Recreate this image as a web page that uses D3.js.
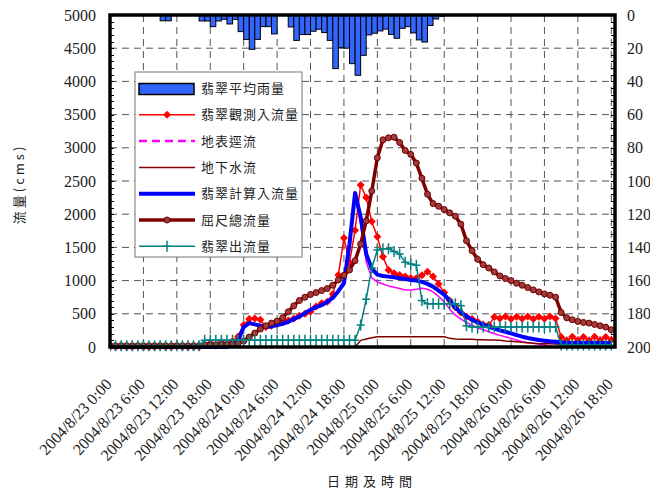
<!DOCTYPE html>
<html>
<head>
<meta charset="utf-8">
<script src="https://cdn.jsdelivr.net/npm/d3@7/dist/d3.min.js"></script>
<style>
    body { margin: 0; background: #fff; }
    svg text { font-family: "Liberation Serif", "DejaVu Serif", serif; fill: #222; }
    svg text.cjk { font-family: "Noto Sans CJK TC", "Noto Sans", sans-serif; }
</style>
</head>
<body>
<svg id="chart" width="650" height="493"></svg>
<script>
// first hour of every hourly series, and the right end of the time axis
const startTime = "2004/8/23 0:00";
const endTime = "2004/8/26 18:40";

const xTickLabels = [
    "2004/8/23 0:00", "2004/8/23 6:00", "2004/8/23 12:00", "2004/8/23 18:00",
    "2004/8/24 0:00", "2004/8/24 6:00", "2004/8/24 12:00", "2004/8/24 18:00",
    "2004/8/25 0:00", "2004/8/25 6:00", "2004/8/25 12:00", "2004/8/25 18:00",
    "2004/8/26 0:00", "2004/8/26 6:00", "2004/8/26 12:00", "2004/8/26 18:00"
];
const flowTicks = [0, 500, 1000, 1500, 2000, 2500, 3000, 3500, 4000, 4500, 5000];
const rainTicks = [0, 20, 40, 60, 80, 100, 120, 140, 160, 180, 200];

const seriesNames = ["翡翠平均雨量", "翡翠觀測入流量", "地表逕流", "地下水流", "翡翠計算入流量", "屈尺總流量", "翡翠出流量"];

// hourly rainfall (mm), hour 0 = 8/23 0:00
const rainfall = [
    0, 0, 0, 0, 0, 0, 0, 0, 0, 3.5, 3.5, 0, 0, 0, 0, 0,
    3.6, 3.6, 7, 3.6, 2.6, 5.4, 2.6, 10, 14.7, 20.7, 14.7, 7, 7, 11.4, 0, 0,
    7.2, 15.3, 11.8, 11.8, 9.8, 8.6, 10.6, 15.3, 32.3, 19.7, 20, 29.3, 36.3, 24.3, 12, 11,
    9.6, 8.5, 11.7, 14, 8, 7, 10.8, 15, 16.3, 6.3, 2.4, 0.8, 0
];

// hourly flows (cms), hour 0 .. 90
const observedInflow = [
    0, 0, 10, 0, 0, 10, 0, 0, 0, 10, 0, 0, 10, 0, 0, 0, 0,
    30, 60, 20, 70, 30, 90, 160, 330, 420, 430, 410, 300, 320, 350, 390, 400,
    430, 470, 500, 530, 610, 660, 680, 800, 1085, 1640, 1270, 1760, 2440, 2250, 1890, 1660,
    1360, 1160, 1110, 1085, 1060, 1040, 1035, 1080, 1135, 1060, 950, 820, 700, 600, 520, 460,
    420, 380, 340, 330, 450, 430, 460, 420, 455, 425, 460, 420, 455, 425, 460, 430,
    150, 100, 155, 105, 150, 100, 155, 105, 150, 110
];
const surfaceFlow = [
    0, 0, 0, 0, 0, 0, 0, 0, 0, 0, 0, 0, 0, 0, 0, 0, 0,
    0, 0, 0, 0, 0, 0, 90, 290, 350, 330, 310, 290, 300, 320, 340, 370,
    410, 450, 500, 550, 590, 620, 670, 730, 830, 950, 1530, 2250, 1850, 1280, 1040, 980,
    950, 920, 900, 880, 860, 860, 870, 885, 870, 830, 760, 680, 570, 480, 420, 370,
    330, 290, 260, 230, 200, 175, 155, 130, 105, 80, 65, 55, 45, 30, 15, 5,
    0, 0, 0, 0, 0, 0, 0, 0, 0, 0
];
const groundFlow = [
    0, 0, 0, 0, 0, 0, 0, 0, 0, 0, 0, 0, 0, 0, 0, 0, 0,
    0, 0, 0, 0, 0, 0, 0, 0, 0, 0, 0, 0, 0, 0, 0, 0,
    0, 0, 0, 0, 0, 0, 0, 0, 0, 0, 0, 0, 100, 120, 140, 155,
    155, 155, 155, 155, 155, 155, 155, 155, 155, 155, 155, 155, 130, 120, 115, 115,
    115, 110, 110, 105, 105, 100, 90, 85, 80, 70, 65, 55, 50, 50, 50, 45,
    30, 30, 30, 30, 30, 30, 30, 30, 30, 30
];
const computedInflow = [
    0, 0, 0, 0, 0, 0, 0, 0, 0, 0, 0, 0, 0, 0, 0, 0, 0,
    0, 0, 0, 0, 0, 20, 100, 300, 360, 340, 320, 300, 310, 330, 350, 380,
    420, 460, 510, 560, 600, 630, 680, 740, 840, 960, 1550, 2320, 1960, 1400, 1180, 1090,
    1070, 1060, 1050, 1035, 1025, 1010, 1000, 980, 950, 910, 850, 790, 700, 590, 520, 460,
    410, 370, 335, 305, 280, 250, 230, 205, 180, 155, 135, 120, 105, 95, 85, 80,
    70, 60, 60, 60, 60, 60, 60, 60, 60, 60
];
const totalFlow = [
    20, 20, 20, 20, 20, 20, 20, 20, 20, 20, 20, 20, 20, 20, 20, 20, 20,
    30, 30, 35, 40, 40, 45, 55, 90, 150, 210, 270, 320, 360, 390, 440, 530,
    620, 700, 750, 790, 820, 850, 880, 930, 1010, 1080, 1160, 1300, 1550, 1900, 2350, 2850,
    3120, 3150, 3160, 3080, 2960, 2900, 2770, 2540, 2300, 2160, 2120, 2070, 2020, 1970, 1850, 1600,
    1450, 1320, 1240, 1190, 1130, 1070, 1030, 1000, 960, 930, 895, 860, 830, 800, 780, 750,
    520, 440, 410, 385, 370, 360, 340, 320, 300, 260
];
const outflow = [
    20, 20, 20, 20, 20, 20, 20, 20, 20, 20, 20, 20, 20, 20, 20, 20, 20,
    100, 100, 100, 100, 100, 100, 100, 100, 100, 100, 100, 100, 100, 100, 100, 100,
    100, 100, 100, 100, 100, 100, 100, 100, 100, 100, 100, 100, 330, 720, 1190, 1460,
    1480, 1480, 1440, 1400, 1275, 1250, 1230, 700, 650, 650, 650, 650, 650, 650, 620, 320,
    300, 300, 300, 300, 300, 300, 300, 300, 300, 300, 300, 300, 300, 300, 300, 300,
    30, 30, 30, 30, 30, 30, 30, 30, 30, 30
];

const parseTime = d3.timeParse("%Y/%m/%d %H:%M");
const t0 = parseTime(startTime);
const hourAt = i => d3.timeHour.offset(t0, i);

const margin = {left: 110, right: 35, top: 15, bottom: 146};
const width = 650, height = 493;
const plotW = width - margin.left - margin.right;
const plotH = height - margin.top - margin.bottom;

const svg = d3.select("#chart");

const x = d3.scaleTime()
    .domain([t0, parseTime(endTime)])
    .range([margin.left, margin.left + plotW]);
const yFlow = d3.scaleLinear()
    .domain([0, 5000])
    .range([margin.top + plotH, margin.top]);
const yRain = d3.scaleLinear()
    .domain([0, 200])
    .range([margin.top, margin.top + plotH]);

const tickDates = xTickLabels.map(parseTime);

// grid
const grid = svg.append("g")
    .attr("stroke", "#555")
    .attr("stroke-width", 1)
    .attr("stroke-dasharray", "7,5");
grid.selectAll("line.h")
    .data(flowTicks.slice(1, -1))
    .join("line")
    .attr("class", "h")
    .attr("x1", margin.left).attr("x2", margin.left + plotW)
    .attr("y1", d => yFlow(d)).attr("y2", d => yFlow(d));
grid.selectAll("line.v")
    .data(tickDates.slice(1))
    .join("line")
    .attr("class", "v")
    .attr("x1", d => x(d)).attr("x2", d => x(d))
    .attr("y1", margin.top).attr("y2", margin.top + plotH);

// minor ticks on both vertical axes
const minor = svg.append("g").attr("stroke", "#000").attr("stroke-width", 1);
minor.selectAll("line.l")
    .data(d3.range(0, 5001, 100))
    .join("line")
    .attr("class", "l")
    .attr("x1", margin.left).attr("x2", margin.left + 4)
    .attr("y1", d => Math.round(yFlow(d)) + 0.5).attr("y2", d => Math.round(yFlow(d)) + 0.5);
minor.selectAll("line.r")
    .data(d3.range(0, 201, 4))
    .join("line")
    .attr("class", "r")
    .attr("x1", margin.left + plotW - 4).attr("x2", margin.left + plotW)
    .attr("y1", d => Math.round(yRain(d)) + 0.5).attr("y2", d => Math.round(yRain(d)) + 0.5);

// rainfall bars hanging from the top
svg.append("g")
    .selectAll("rect")
    .data(rainfall.map((v, i) => ({i, v})).filter(d => d.v > 0))
    .join("rect")
    .attr("x", d => x(hourAt(d.i)))
    .attr("width", d => x(hourAt(d.i + 1)) - x(hourAt(d.i)))
    .attr("y", yRain(0))
    .attr("height", d => yRain(d.v) - yRain(0))
    .attr("fill", "#3366ff")
    .attr("stroke", "#000")
    .attr("stroke-width", 1);

svg.append("clipPath").attr("id", "plot-clip")
    .append("rect")
    .attr("x", margin.left).attr("y", margin.top - 6)
    .attr("width", plotW).attr("height", plotH + 12);

const plot = svg.append("g").attr("clip-path", "url(#plot-clip)");
const line = d3.line()
    .x((d, i) => x(hourAt(i)))
    .y(d => yFlow(d));

const diamond = "M0,-4L4,0L0,4L-4,0Z";
const plus = "M-4,0H4M0,-5.5V5.5";

const series = [
    {values: observedInflow, color: "#ff0000", width: 1.5, marker: "diamond"},
    {values: surfaceFlow, color: "#ff00ff", width: 1.5},
    {values: groundFlow, color: "#800000", width: 1.5},
    {values: computedInflow, color: "#0000ff", width: 4},
    {values: totalFlow, color: "#800000", width: 3.5, marker: "circle"},
    {values: outflow, color: "#008080", width: 1.5, marker: "plus"}
];

series.forEach(s => {
    plot.append("path")
        .datum(s.values)
        .attr("fill", "none")
        .attr("stroke", s.color)
        .attr("stroke-width", s.width)
        .attr("stroke-linejoin", "round")
        .attr("d", line);

    const pts = plot.append("g")
        .selectAll("g")
        .data(s.values)
        .join("g")
        .attr("transform", (d, i) => `translate(${x(hourAt(i))},${yFlow(d)})`);
    if (s.marker === "diamond") {
        pts.append("path").attr("d", diamond).attr("fill", "#ff0000");
    } else if (s.marker === "circle") {
        pts.append("circle").attr("r", 3)
            .attr("fill", "#a33a3a").attr("stroke", "#6b0000").attr("stroke-width", 1);
    } else if (s.marker === "plus") {
        pts.append("path").attr("d", plus)
            .attr("stroke", "#008080").attr("stroke-width", 1.5).attr("fill", "none");
    }
});

// plot frame
svg.append("rect")
    .attr("x", margin.left).attr("y", margin.top)
    .attr("width", plotW).attr("height", plotH)
    .attr("fill", "none")
    .attr("stroke", "#000")
    .attr("stroke-width", 3.5);

// axes (labels only, frame is drawn above)
const axisLeft = svg.append("g")
    .attr("transform", `translate(${margin.left},0)`)
    .call(d3.axisLeft(yFlow).tickValues(flowTicks).tickFormat(d3.format("d")).tickSize(0).tickPadding(14));
const axisRight = svg.append("g")
    .attr("transform", `translate(${margin.left + plotW},0)`)
    .call(d3.axisRight(yRain).tickValues(rainTicks).tickFormat(d3.format("d")).tickSize(0).tickPadding(12));
const axisBottom = svg.append("g")
    .attr("transform", `translate(0,${margin.top + plotH})`)
    .call(d3.axisBottom(x).tickValues(tickDates).tickFormat((d, i) => xTickLabels[i]).tickSize(0));

[axisLeft, axisRight, axisBottom].forEach(a => {
    a.select(".domain").remove();
    a.selectAll("text")
        .attr("font-family", null)
        .style("font-size", "16px")
        .style("fill", "#222");
});
axisBottom.selectAll("text")
    .attr("y", 0)
    .attr("dy", "0.35em")
    .attr("text-anchor", "end")
    .attr("transform", "translate(-2,34) rotate(-47)");

// axis titles
svg.append("text")
    .attr("class", "cjk")
    .attr("transform", "translate(24,184) rotate(-90)")
    .attr("text-anchor", "middle")
    .style("font-size", "13px")
    .style("letter-spacing", "3px")
    .text("流量(cms)");
svg.append("text")
    .attr("class", "cjk")
    .attr("x", 372).attr("y", 486)
    .attr("text-anchor", "middle")
    .style("font-size", "13px")
    .style("letter-spacing", "5px")
    .text("日期及時間");

// legend
const legend = svg.append("g").attr("transform", "translate(135,72)");
legend.append("rect")
    .attr("width", 167).attr("height", 185)
    .attr("fill", "#fff")
    .attr("stroke", "#777")
    .attr("stroke-width", 1);

const legendRows = legend.selectAll("g.row")
    .data(seriesNames)
    .join("g")
    .attr("class", "row")
    .attr("transform", (d, i) => `translate(0,${16.5 + i * 26.3})`);

legendRows.append("text")
    .attr("class", "cjk")
    .attr("x", 66).attr("dy", "0.36em")
    .style("font-size", "13px")
    .style("letter-spacing", "1px")
    .text(d => d);

const swatch = legendRows.filter((d, i) => i === 0);
swatch.append("rect")
    .attr("x", 4).attr("y", -5).attr("width", 55).attr("height", 11)
    .attr("fill", "#3366ff").attr("stroke", "#000").attr("stroke-width", 1.5);

legendRows.filter((d, i) => i > 0).each(function (d, i) {
    const s = series[i];
    const g = d3.select(this);
    g.append("line")
        .attr("x1", 4).attr("x2", 60)
        .attr("stroke", s.color)
        .attr("stroke-width", i === 1 ? 2.5 : s.width)
        .attr("stroke-dasharray", i === 1 ? "8,5" : null);
    if (s.marker === "diamond") {
        g.append("path").attr("d", diamond).attr("transform", "translate(32,0)").attr("fill", "#ff0000");
    } else if (s.marker === "circle") {
        g.append("circle").attr("cx", 32).attr("r", 3)
            .attr("fill", "#a33a3a").attr("stroke", "#6b0000").attr("stroke-width", 1);
    } else if (s.marker === "plus") {
        g.append("path").attr("d", plus).attr("transform", "translate(32,0)")
            .attr("stroke", "#008080").attr("stroke-width", 1.5);
    }
});
</script>
</body>
</html>
